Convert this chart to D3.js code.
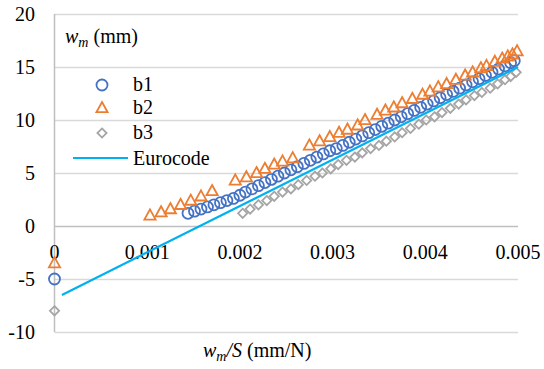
<!DOCTYPE html>
<html>
<head>
<meta charset="utf-8">
<script src="https://cdn.jsdelivr.net/npm/d3@7"></script>
<style>
  body { margin: 0; background: #fff; }
  svg text, svg tspan { font-family: "Liberation Serif", serif !important; }
</style>
</head>
<body>
<svg id="fig" width="544" height="369"></svg>
<script>
// data
var b1X = [0, 0.00144, 0.00151, 0.00158, 0.00165, 0.00172, 0.00179, 0.00186, 0.00193, 0.002, 0.00206,
  0.00213, 0.0022, 0.00227, 0.00234, 0.00241, 0.00248, 0.00255, 0.00262, 0.00269, 0.00276, 0.00283,
  0.0029, 0.00297, 0.00304, 0.00311, 0.00318, 0.00325, 0.00332, 0.00339, 0.00346, 0.00353, 0.0036,
  0.00367, 0.00374, 0.00381, 0.00388, 0.00395, 0.00402, 0.00409, 0.00416, 0.00423, 0.0043, 0.00437,
  0.00444, 0.00451, 0.00458, 0.00465, 0.00472, 0.00479, 0.00486, 0.00492, 0.00496];
var b1Y = [-5, 1.2, 1.4, 1.6, 1.8, 2.0, 2.2, 2.4, 2.6, 2.9, 3.2, 3.5, 3.8, 4.1, 4.4, 4.7, 5.0, 5.3,
  5.6, 5.9, 6.2, 6.5, 6.8, 7.1, 7.3, 7.6, 7.9, 8.2, 8.5, 8.8, 9.1, 9.4, 9.7, 10.0, 10.3, 10.6, 10.9,
  11.2, 11.5, 11.8, 12.1, 12.4, 12.7, 13.0, 13.3, 13.6, 13.9, 14.2, 14.5, 14.8, 15.1, 15.4, 15.6];

var b2X = [0, 0.00103, 0.00115, 0.00125, 0.00136, 0.00147, 0.00158, 0.0017, 0.00195, 0.00207, 0.00218,
  0.00227, 0.00237, 0.00246, 0.00257, 0.00275, 0.00286, 0.00297, 0.00307, 0.00316, 0.00327, 0.00335,
  0.00348, 0.00357, 0.00366, 0.00375, 0.00386, 0.00397, 0.00405, 0.00414, 0.00423, 0.00433, 0.00443,
  0.00451, 0.0046, 0.00466, 0.00475, 0.00483, 0.00489, 0.00494, 0.00499];
var b2Y = [-3.5, 1.0, 1.3, 1.6, 2.0, 2.4, 2.8, 3.3, 4.3, 4.6, 5.0, 5.4, 5.8, 6.1, 6.4, 7.6, 8.0, 8.4,
  8.8, 9.1, 9.5, 10.0, 10.5, 10.9, 11.2, 11.6, 12.0, 12.4, 12.7, 13.1, 13.4, 13.8, 14.2, 14.5, 14.9,
  15.1, 15.5, 15.8, 16.0, 16.2, 16.5];

var b3X = [0, 0.00203, 0.00211, 0.0022, 0.00229, 0.00237, 0.00246, 0.00255, 0.00263, 0.00272, 0.00281,
  0.00289, 0.00298, 0.00306, 0.00315, 0.00324, 0.00332, 0.00341, 0.0035, 0.00358, 0.00367, 0.00375,
  0.00384, 0.00393, 0.00401, 0.0041, 0.00418, 0.00427, 0.00436, 0.00444, 0.00453, 0.00461, 0.0047,
  0.00478, 0.00486, 0.00492, 0.00498];
var b3Y = [-8, 1.2, 1.6, 2.0, 2.4, 2.8, 3.2, 3.5, 3.9, 4.3, 4.7, 5.0, 5.4, 5.8, 6.2, 6.5, 6.9, 7.3,
  7.6, 8.0, 8.4, 8.8, 9.2, 9.6, 10.0, 10.3, 10.7, 11.1, 11.5, 11.9, 12.3, 12.6, 13.0, 13.4, 13.8,
  14.1, 14.5];

var euroX = [0.00008, 0.005];
var euroY = [-6.5, 15.0];

var xTicks = [0, 0.001, 0.002, 0.003, 0.004, 0.005];
var yTicks = [-10, -5, 0, 5, 10, 15, 20];

var svg = d3.select('#fig');

var x = d3.scaleLinear().domain([0, 0.005]).range([54.5, 518]);
var y = d3.scaleLinear().domain([-10, 20]).range([332, 14]);

// gridlines
svg.append('g').selectAll('line').data(yTicks).enter().append('line')
  .attr('x1', x(0)).attr('x2', x(0.005))
  .attr('y1', function(d) { return Math.round(y(d)) + 0.5; })
  .attr('y2', function(d) { return Math.round(y(d)) + 0.5; })
  .style('stroke', function(d) { return d === 0 ? '#bfbfbf' : '#d9d9d9'; })
  .style('stroke-width', 1.5);

// vertical axis
svg.append('line')
  .attr('x1', x(0)).attr('x2', x(0))
  .attr('y1', y(20)).attr('y2', y(-10))
  .style('stroke', '#bfbfbf').style('stroke-width', 1.5);

function label(sel) {
  return sel.style('font-family', '"Liberation Serif", serif', 'important')
    .attr('font-size', 20).attr('fill', '#000');
}

// y tick labels
label(svg.append('g').selectAll('text').data(yTicks).enter().append('text'))
  .attr('x', 35).attr('y', function(d) { return y(d) + 7; })
  .attr('text-anchor', 'end')
  .text(function(d) { return d; });

// x tick labels, under the zero line
label(svg.append('g').selectAll('text').data(xTicks).enter().append('text'))
  .attr('x', function(d) { return x(d); }).attr('y', 259)
  .attr('text-anchor', 'middle')
  .text(function(d) { return d === 0 ? '0' : d3.format('.3f')(d); });

var circlePath = 'M5.5,0A5.5,5.5 0 1,1 -5.5,0A5.5,5.5 0 1,1 5.5,0Z';
var triPath = 'M0,-6L5.6,4.2L-5.6,4.2Z';
var diaPath = 'M0,-4.6L4.6,0L0,4.6L-4.6,0Z';

var series = [
  { name: 'b1', xs: b1X, ys: b1Y, color: '#4472c4', path: circlePath },
  { name: 'b2', xs: b2X, ys: b2Y, color: '#ed7d31', path: triPath },
  { name: 'b3', xs: b3X, ys: b3Y, color: '#a5a5a5', path: diaPath }
];

series.forEach(function(s) {
  svg.append('g').attr('class', s.name).selectAll('path')
    .data(d3.range(s.xs.length)).enter().append('path')
    .attr('d', s.path)
    .attr('transform', function(i) { return 'translate(' + x(s.xs[i]) + ',' + y(s.ys[i]) + ')'; })
    .style('fill', 'none').style('stroke', s.color).style('stroke-width', 1.8);
});

var line = d3.line()
  .x(function(i) { return x(euroX[i]); })
  .y(function(i) { return y(euroY[i]); });
svg.append('path').datum(d3.range(euroX.length))
  .attr('d', line)
  .style('fill', 'none').style('stroke', '#00b0f0').style('stroke-width', 2.2);

// y axis title
var yt = label(svg.append('text')).attr('x', 65).attr('y', 43);
yt.append('tspan').attr('font-style', 'italic').text('w');
yt.append('tspan').attr('dy', 4).attr('font-size', 14).attr('font-style', 'italic').text('m');
yt.append('tspan').attr('dy', -4).text(' (mm)');

// x axis title
var xt = label(svg.append('text')).attr('x', 203).attr('y', 357);
xt.append('tspan').attr('font-style', 'italic').text('w');
xt.append('tspan').attr('dy', 4).attr('font-size', 14).attr('font-style', 'italic').text('m');
xt.append('tspan').attr('dy', -4).attr('font-style', 'italic').text('/S');
xt.append('tspan').text(' (mm/N)');

// legend
var legend = svg.append('g').attr('class', 'legend');
var legRows = [85, 108, 133];
series.forEach(function(s, i) {
  legend.append('path').attr('d', s.path)
    .attr('transform', 'translate(102,' + legRows[i] + ')')
    .style('fill', 'none').style('stroke', s.color).style('stroke-width', 1.8);
  label(legend.append('text')).attr('x', 133).attr('y', legRows[i] + 6).text(s.name);
});
legend.append('line').attr('x1', 73).attr('x2', 128).attr('y1', 158).attr('y2', 158)
  .style('stroke', '#00b0f0').style('stroke-width', 2.2);
label(legend.append('text')).attr('x', 133).attr('y', 165).text('Eurocode');
</script>
</body>
</html>
